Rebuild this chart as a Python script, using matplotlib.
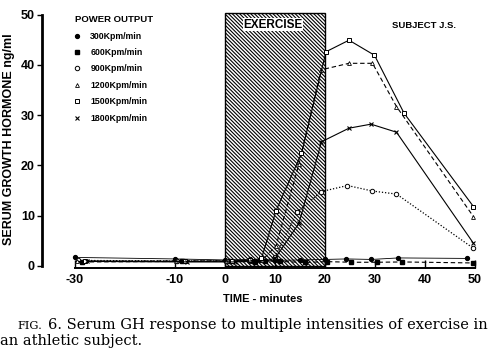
import matplotlib
matplotlib.use("Agg")
import matplotlib.pyplot as plt
from matplotlib.lines import Line2D
from matplotlib.patches import Rectangle

# ---- data ----
t300 = [-30, -10, 0, 5, 7, 10, 15, 20, 24.3, 29.3, 34.7, 48.5]
v300 = [1.7, 1.4, 1.2, 1.3, 1.2, 1.1, 1.2, 1.3, 1.4, 1.3, 1.6, 1.5]
t600 = [-28.5, -8.5, 1, 6, 8, 11, 16, 20.5, 25.3, 30.5, 35.5, 49.7]
v600 = [0.8, 0.9, 0.9, 0.8, 1.0, 0.9, 0.7, 0.86, 0.74, 0.74, 0.8, 0.6]
t900 = [-29.3, -9.5, 0.5, 5, 7.5, 10, 14.5, 19.3, 24.5, 29.5, 34.3, 49.7]
v900 = [1.1, 1.0, 1.0, 1.0, 1.1, 1.8, 10.8, 14.8, 16.0, 14.9, 14.3, 3.5]
t1200 = [-29.5, -9.8, 0.3, 5, 7.5, 10.2, 14.8, 19.2, 24.8, 29.5, 34.3, 49.7]
v1200 = [0.9, 1.0, 1.0, 1.1, 1.2, 4.0, 20.3, 39.0, 40.3, 40.3, 31.7, 9.8]
t1500 = [-28, -8, 1.5, 5, 7.3, 10.2, 15.3, 20.2, 24.8, 29.9, 35.8, 49.7]
v1500 = [1.0, 0.9, 1.0, 1.1, 1.5, 11.0, 22.4, 42.6, 44.9, 41.9, 30.4, 11.8]
t1800 = [-27.5, -7.5, 2, 5.5, 8, 10, 14.8, 19.3, 24.8, 29.2, 34.3, 49.7]
v1800 = [0.9, 0.8, 0.8, 1.0, 1.0, 1.5, 8.5, 24.7, 27.4, 28.2, 26.6, 4.5]

series_labels = ["300Kpm/min", "600Kpm/min", "900Kpm/min",
                 "1200Kpm/min", "1500Kpm/min", "1800Kpm/min"]
xticks = [-30, -10, 0, 10, 20, 30, 40, 50]
xticklabels = ["-30", "-10", "0", "10", "20", "30", "40", "50"]
yticks = [0, 10, 20, 30, 40, 50]
exercise_start, exercise_end = 0, 20

plt.rcParams['hatch.linewidth'] = 0.8
fig = plt.figure(figsize=(4.93, 3.6), dpi=100)
ax = fig.add_axes([0.0862, 0.2556, 0.8925, 0.718])
ax.set_xlim(-36.5, 51.5)
ax.set_ylim(-0.4, 51)

# exercise box
ax.add_patch(Rectangle((exercise_start, 0), exercise_end - exercise_start, 50.4,
                       facecolor='white', edgecolor='black', hatch='\\' * 9,
                       linewidth=1.0, zorder=1))
ax.text(9.6, 48.0, "EXERCISE", ha='center', va='center', fontsize=8.5,
        fontweight='bold', family='Liberation Sans',
        bbox=dict(facecolor='white', edgecolor='none', pad=0.6), zorder=2)
ax.text(39.8, 47.8, "SUBJECT J.S.", ha='center', va='center', fontsize=6.8,
        fontweight='bold', family='Liberation Sans', zorder=2)

k = 'black'
specs = [
    (t300, v300, dict(marker='o', ms=2.8, mfc=k, mec=k, ls='-', lw=0.6)),
    (t600, v600, dict(marker='s', ms=2.5, mfc=k, mec=k, ls=(0, (4, 2.5)), lw=0.8)),
    (t900, v900, dict(marker='o', ms=3.2, mfc='white', mec=k, mew=0.7, ls=(0, (1, 1.5)), lw=0.9)),
    (t1200, v1200, dict(marker='^', ms=2.8, mfc='white', mec=k, mew=0.6, ls=(0, (4, 2.5)), lw=0.8)),
    (t1500, v1500, dict(marker='s', ms=3.0, mfc='white', mec=k, mew=0.7, ls='-', lw=0.8)),
    (t1800, v1800, dict(marker='x', ms=2.4, mec=k, mew=0.8, ls='-', lw=0.8)),
]
handles = []
for (t, v, st), lab in zip(specs, series_labels):
    ax.plot(t, v, color=k, zorder=3, **st)
    hs = dict(st)
    hs['ls'] = 'none'
    handles.append(Line2D([], [], color=k, **hs))

leg = ax.legend(handles, series_labels, title="POWER OUTPUT", loc='upper left',
                bbox_to_anchor=(0.063, 0.995), frameon=False, borderpad=0,
                handlelength=0.6, handletextpad=1.2, labelspacing=0.85,
                prop=dict(size=6.3, weight='bold', family='Liberation Sans'),
                title_fontproperties=dict(size=6.8, weight='bold', family='Liberation Sans'),
                alignment='left')

# axes styling
for s in ['top', 'right']:
    ax.spines[s].set_visible(False)
ax.spines['left'].set_bounds(0, 50)
ax.spines['left'].set_linewidth(2.0)
ax.spines['bottom'].set_bounds(-30, 50)
ax.spines['bottom'].set_linewidth(1.4)
ax.set_xticks(xticks)
ax.set_xticklabels(xticklabels)
ax.set_yticks(yticks)
ax.tick_params(axis='x', direction='in', length=6, width=1.0, pad=4)
ax.tick_params(axis='y', direction='out', length=3.5, width=1.0, pad=2)
for lab in ax.get_xticklabels() + ax.get_yticklabels():
    lab.set_fontweight('bold')
    lab.set_fontsize(9)
    lab.set_family('Liberation Sans')

ax.set_xlabel("TIME - minutes", fontsize=8, fontweight='bold',
              family='Liberation Sans', labelpad=6)
ax.set_ylabel("SERUM GROWTH HORMONE ng/ml", fontsize=9, fontweight='bold',
              family='Liberation Sans', labelpad=4)

# caption
fig.canvas.draw()
r = fig.canvas.get_renderer()
t1 = fig.text(17 / 493, 1 - 329 / 360, "FIG.", fontsize=8.2, family='DejaVu Serif',
              va='baseline')
bb = t1.get_window_extent(r)
fig.text((bb.x1 + 6) / 493, 1 - 329 / 360,
         "6. Serum GH response to multiple intensities of exercise in",
         fontsize=10.5, family='DejaVu Serif', va='baseline')
fig.text(0.5 / 493, 1 - 345 / 360, "an athletic subject.", fontsize=10.5,
         family='DejaVu Serif', va='baseline')

fig.savefig("out.png", dpi=100)
